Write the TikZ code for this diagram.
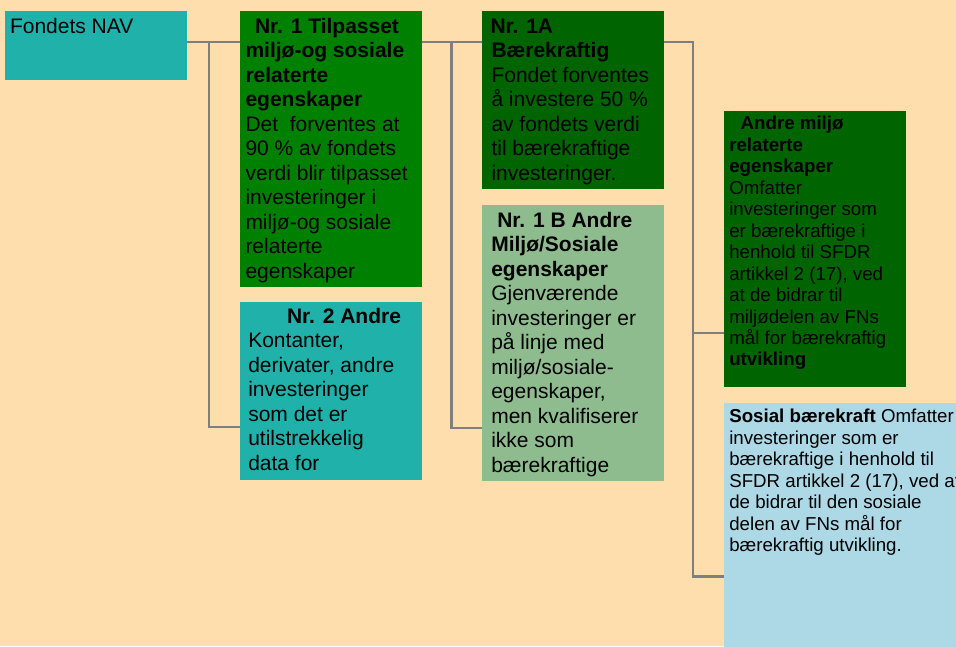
\documentclass[tikz,border=0pt]{standalone}
\usepackage{fontspec}
\setmainfont{Liberation Sans}
\definecolor{bgc}{HTML}{FFDEAD}
\definecolor{tealc}{HTML}{20B2AA}
\definecolor{greenc}{HTML}{008000}
\definecolor{dgreenc}{HTML}{006400}
\definecolor{sgreenc}{HTML}{8FBC8F}
\definecolor{lbluec}{HTML}{ADD8E6}
\definecolor{linec}{HTML}{7F7F7F}
\begin{document}
\begin{tikzpicture}[x=1pt,y=-1pt,
  boxn/.style={anchor=north west, inner sep=0pt, outer sep=0pt, draw=none},
  bigt/.style={anchor=north west, inner sep=0pt, outer sep=0pt, align=left, font=\fontsize{21}{24.5}\selectfont},
  smallt/.style={anchor=north west, inner sep=0pt, outer sep=0pt, align=left, font=\fontsize{18.7}{21.45}\selectfont},
  conn/.style={draw=linec, line width=2.6pt, line join=miter}]
\useasboundingbox (0,0) rectangle (956,646);
\fill[bgc] (0,0) rectangle (956,646);

% boxes
\node[boxn, fill=tealc, minimum width=182pt, minimum height=69pt] (nav) at (5,11) {};
\node[boxn, fill=greenc, minimum width=182pt, minimum height=276pt] (n1) at (240,11) {};
\node[boxn, fill=tealc, minimum width=182pt, minimum height=178pt] (n2) at (240,302) {};
\node[boxn, fill=dgreenc, minimum width=182pt, minimum height=178pt] (n1a) at (482,11) {};
\node[boxn, fill=sgreenc, minimum width=182pt, minimum height=276pt] (n1b) at (482,205) {};
\node[boxn, fill=dgreenc, minimum width=182pt, minimum height=276pt] (am) at (724,111) {};
\node[boxn, fill=lbluec, minimum width=260pt, minimum height=270pt] (sb) at (724,403) {};

% texts
\node[bigt] (navt) at (10,15.85) {\strut Fondets NAV};
\node[bigt] (n1t) at (245.5,15.85) {\strut\hspace*{9.5pt}\textbf{Nr. 1 Tilpasset}\\
\textbf{miljø-og sosiale}\\
\textbf{relaterte}\\
\textbf{egenskaper}\\
Det\ \ forventes at\\
90 \% av fondets\\
verdi blir tilpasset\\
investeringer i\\
miljø-og sosiale\\
relaterte\\
egenskaper};
\node[bigt] (n2t) at (248.3,305.85) {\strut\hspace*{38.7pt}\textbf{Nr. 2 Andre}\\
Kontanter,\\
derivater, andre\\
investeringer\\
som det er\\
utilstrekkelig\\
data for};
\node[bigt] (n1at) at (490.5,15.85) {\strut\textbf{Nr. 1A}\\
\hspace*{1pt}\textbf{Bærekraftig}\\
\hspace*{1pt}Fondet forventes\\
\hspace*{1pt}å investere 50 \%\\
\hspace*{1pt}av fondets verdi\\
\hspace*{1pt}til bærekraftige\\
\hspace*{1pt}investeringer.};
\node[bigt] (n1bt) at (491.3,209.85) {\strut\hspace*{6pt}\textbf{Nr. 1 B Andre}\\
\textbf{Miljø/Sosiale}\\
\textbf{egenskaper}\\
Gjenværende\\
investeringer er\\
på linje med\\
miljø/sosiale-\\
egenskaper,\\
men kvalifiserer\\
ikke som\\
bærekraftige};
\node[smallt] (amt) at (729.3,114.95) {\strut\hspace*{11.4pt}\textbf{Andre miljø}\\
\textbf{relaterte}\\
\textbf{egenskaper}\\
Omfatter\\
investeringer som\\
er bærekraftige i\\
henhold til SFDR\\
artikkel 2 (17), ved\\
at de bidrar til\\
miljødelen av FNs\\
mål for bærekraftig\\
\textbf{utvikling}};
\node[smallt] (sbt) at (729.3,407.95) {\strut\textbf{Sosial bærekraft} Omfatter\\
investeringer som er\\
bærekraftige i henhold til\\
SFDR artikkel 2 (17), ved at\\
de bidrar til den sosiale\\
delen av FNs mål for\\
bærekraftig utvikling.};

% connectors
\coordinate (j1) at (209,42);
\coordinate (j1b) at (209,427);
\coordinate (j2) at (451.5,42);
\coordinate (j2b) at (451.5,428);
\coordinate (j3) at (693,42);
\coordinate (j3m) at (693,333);
\coordinate (j3b) at (693,576.5);

\draw[conn] (nav.east |- j1) -- (n1.west |- j1);
\draw[conn] (j1) -- (j1b) -- (j1b -| n2.west);
\draw[conn] (n1.east |- j2) -- (n1a.west |- j2);
\draw[conn] (j2) -- (j2b) -- (j2b -| n1b.west);
\draw[conn] (n1a.east |- j3) -- (j3) -- (j3b) -- (j3b -| sb.west);
\draw[conn] (j3m) -- (j3m -| am.west);
\end{tikzpicture}
\end{document}
